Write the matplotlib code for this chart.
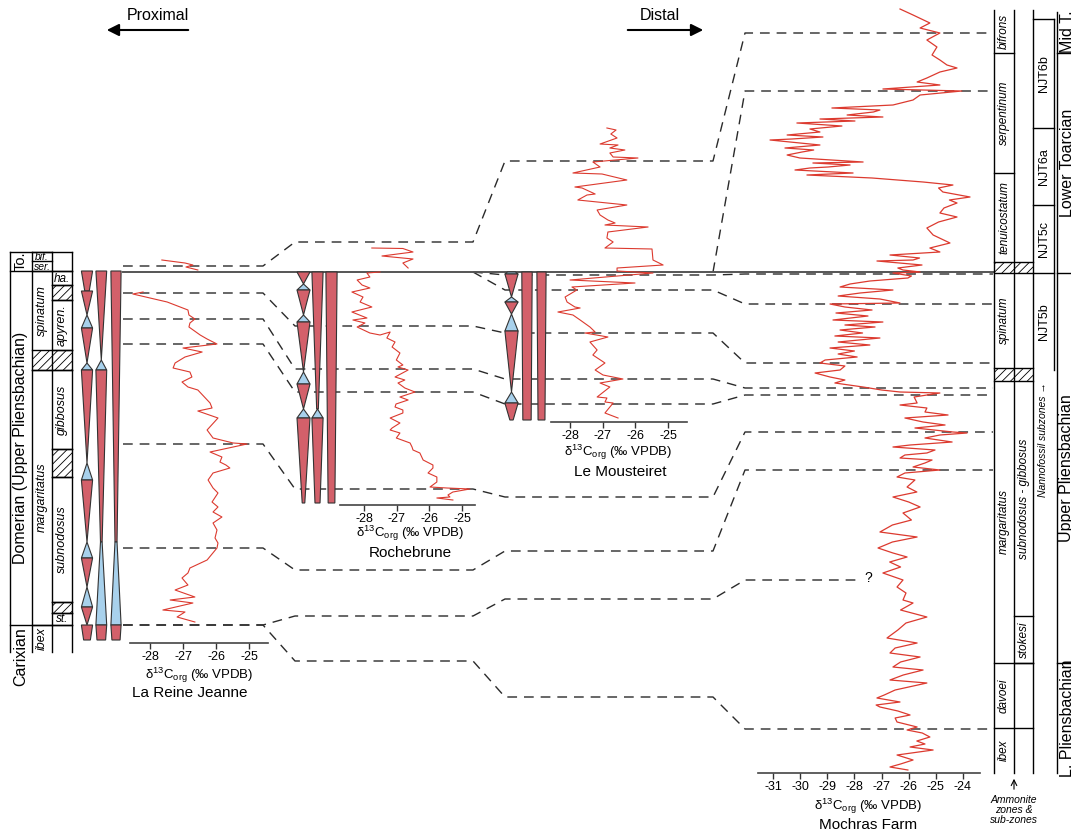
import matplotlib.pyplot as plt
from matplotlib.patches import Polygon, Rectangle

plt.rcParams['font.family'] = ['Liberation Sans', 'DejaVu Sans']
plt.rcParams['mathtext.fontset'] = 'custom'
plt.rcParams['mathtext.rm'] = 'Liberation Sans'
plt.rcParams['axes.unicode_minus'] = False
plt.rcParams['hatch.linewidth'] = 0.6

# ---------------- data ----------------
# d13C curves: (stratigraphic level, d13Corg permil). Level is the position in the panel (top = young)
lrj_toarc = [(260, -27.64), (263, -26.94), (265, -26.70), (267, -26.91), (270, -26.55)]
lrj_curve = [(292, -28.21), (294, -28.52), (302, -27.48), (310, -26.85), (315, -26.82), (319, -26.64),
             (323, -26.79), (327, -26.82), (335, -26.48), (339, -26.27), (344, -25.97), (348, -27.00),
             (352, -26.42), (357, -26.94), (363, -27.24), (368, -27.30), (372, -26.79), (377, -26.73),
             (382, -27.03), (387, -26.85), (390, -26.55), (403, -26.18), (408, -26.12), (411, -26.55),
             (418, -25.94), (430, -26.27), (438, -26.09), (443, -25.48), (444, -25.06), (452, -26.18),
             (457, -25.82), (462, -25.88), (465, -25.70), (468, -25.58), (473, -26.09), (480, -26.24),
             (488, -26.09), (493, -25.94), (502, -26.12), (507, -25.94), (512, -26.09), (517, -25.82),
             (523, -26.09), (530, -25.97), (538, -26.03), (543, -25.94), (548, -25.97), (560, -26.27),
             (568, -26.79), (573, -26.85), (578, -27.03), (585, -26.85), (590, -27.24), (597, -26.64),
             (600, -27.39), (603, -26.70), (610, -27.61), (612, -26.94), (617, -27.18), (622, -26.64)]

roche_toarc = [(248, -27.76), (248.5, -26.81), (252, -26.50), (256, -27.45), (259, -26.50),
               (263, -26.81), (268, -26.65)]
roche_curve = [(272, -27.51), (273, -27.91), (277, -27.82), (280, -28.21), (285, -28.06), (288, -27.82),
               (292, -28.37), (297, -28.03), (302, -28.12), (307, -27.76), (312, -28.37), (318, -27.91),
               (320, -28.34), (323, -27.97), (327, -28.21), (333, -27.82), (335, -27.51), (332, -27.20),
               (338, -27.30), (342, -27.05), (347, -27.14), (353, -26.90), (360, -27.01), (365, -26.81),
               (367, -26.96), (370, -26.65), (377, -27.05), (380, -26.75), (383, -26.96), (388, -26.75),
               (392, -26.44), (397, -26.90), (400, -26.65), (404, -27.02), (407, -27.05), (410, -26.81),
               (413, -26.81), (418, -27.20), (423, -26.90), (428, -27.14), (430, -27.20), (433, -26.90),
               (438, -27.01), (443, -26.59), (447, -26.53), (450, -26.50), (453, -26.29), (460, -26.19),
               (465, -25.89), (468, -25.89), (473, -26.04), (477, -25.77), (482, -25.77), (487, -25.98),
               (488, -25.46), (489, -24.76), (492, -25.28), (495, -25.43), (497, -25.37), (498, -25.77),
               (500, -25.28)]

mous_curve = [(128, -26.87), (130, -26.59), (134, -26.75), (138, -26.56), (144, -27.08), (145, -26.53),
              (148, -26.78), (150, -26.32), (153, -26.78), (157, -26.68), (158, -25.92), (162, -27.30),
              (167, -27.08), (173, -27.91), (174, -27.02), (180, -26.26), (187, -27.85), (188, -27.63),
              (194, -27.23), (195, -27.48), (200, -27.76), (205, -26.26), (210, -27.17), (215, -27.08),
              (220, -26.84), (223, -26.62), (225, -26.93), (227, -25.61), (232, -26.84), (238, -26.87),
              (242, -26.68), (248, -26.93), (249, -25.49), (260, -25.46), (265, -25.15), (268, -26.56),
              (271, -26.56), (273, -25.46), (280, -28.00), (283, -26.01), (287, -27.94), (290, -27.79),
              (297, -28.15), (302, -28.09), (307, -27.85), (308, -27.69), (312, -28.37), (315, -27.91),
              (320, -27.69), (327, -27.39), (332, -27.23), (333, -27.54), (337, -26.84), (342, -27.39),
              (350, -27.17), (355, -27.30), (363, -26.93), (370, -27.23), (375, -26.99), (379, -26.38),
              (383, -27.08), (387, -26.78), (397, -27.17), (398, -26.87), (402, -26.93), (403, -26.68),
              (413, -26.93), (418, -26.53)]

mochras_curve = [(9, -26.32), (15, -25.84), (23, -25.22), (28, -25.58), (33, -24.85), (40, -25.33),
                 (47, -24.96), (55, -25.14), (60, -24.85), (65, -24.59), (68, -24.22), (72, -24.85),
                 (78, -25.33), (82, -25.69), (85, -24.85), (89, -26.95), (91, -24.04), (95, -25.58),
                 (100, -25.84), (105, -26.58), (108, -28.83), (110, -27.06), (112, -27.30), (115, -28.27),
                 (117, -26.95), (119, -29.27), (121, -27.98), (123, -30.12), (126, -28.46), (129, -29.64),
                 (132, -29.27), (135, -30.48), (137, -29.16), (139, -30.30), (140, -31.11), (143, -30.01),
                 (145, -29.27), (148, -30.56), (150, -29.50), (152, -29.93), (155, -30.48), (158, -30.01),
                 (162, -27.68), (163, -29.53), (165, -28.16), (167, -28.97), (168, -29.64), (170, -30.19),
                 (173, -28.05), (175, -29.75), (178, -27.35), (182, -25.47), (185, -24.37), (188, -24.90),
                 (192, -24.74), (197, -23.74), (200, -24.50), (203, -24.22), (208, -24.70), (213, -24.85),
                 (217, -24.22), (222, -24.90), (228, -25.33), (235, -25.10), (243, -24.48), (248, -25.22),
                 (252, -24.85), (255, -26.69), (258, -25.60), (260, -25.84), (261, -27.17), (265, -25.51),
                 (268, -26.40), (270, -26.21), (272, -25.58), (273, -26.58), (276, -25.90), (278, -26.03),
                 (281, -27.43), (284, -28.16), (287, -28.53), (290, -26.58), (293, -27.79), (296, -28.60),
                 (299, -27.06), (303, -26.32), (304, -28.90), (307, -28.35), (310, -27.35), (313, -28.68),
                 (316, -27.50), (320, -28.79), (322, -26.95), (325, -28.35), (327, -27.24), (330, -28.53),
                 (333, -27.70), (336, -28.72), (338, -27.06), (342, -28.60), (345, -27.43), (348, -28.90),
                 (351, -28.00), (354, -28.60), (357, -27.90), (360, -29.08), (363, -29.27), (366, -28.35),
                 (370, -28.53), (373, -29.45), (377, -28.90), (380, -28.35), (383, -28.72), (387, -27.68),
                 (390, -27.00), (392, -26.32), (393, -24.85), (397, -25.80), (403, -25.69), (405, -26.32),
                 (408, -25.33), (412, -25.40), (415, -24.55), (418, -26.14), (422, -25.47), (425, -24.66),
                 (428, -25.77), (432, -24.37), (433, -23.85), (435, -24.85), (438, -25.40), (442, -24.40),
                 (445, -25.95), (447, -26.58), (450, -25.03), (453, -25.33), (455, -26.14), (458, -26.32),
                 (460, -25.14), (463, -25.40), (467, -25.84), (470, -24.85), (473, -26.14), (477, -26.43),
                 (480, -25.77), (487, -26.06), (492, -25.70), (497, -26.58), (502, -26.00), (507, -25.58),
                 (513, -26.21), (520, -25.90), (525, -26.60), (532, -27.06), (537, -25.69), (542, -26.60),
                 (548, -27.13), (553, -26.58), (557, -26.06), (562, -26.70), (567, -26.30), (573, -26.95),
                 (580, -26.21), (587, -26.43), (593, -26.10), (600, -26.21), (603, -25.84), (610, -26.30),
                 (617, -25.33), (623, -26.10), (630, -26.40), (638, -26.80), (643, -25.69), (648, -26.50),
                 (653, -26.69), (657, -25.58), (662, -26.30), (667, -26.58), (670, -25.47), (675, -26.20),
                 (680, -26.69), (683, -25.33), (690, -26.50), (695, -26.90), (698, -27.17), (702, -26.32),
                 (705, -27.20), (707, -27.06), (711, -26.40), (715, -25.95), (718, -26.50), (722, -26.43),
                 (727, -25.69), (730, -26.06), (733, -25.50), (737, -25.22), (741, -25.70), (744, -25.40),
                 (747, -25.95), (750, -25.10), (755, -26.43), (760, -25.84), (764, -26.30), (767, -26.69),
                 (770, -26.03)]

# sequence columns: (top, base, tract, width at top, width at base); r = red, b = blue
lrj_seq = [
    [(271, 291, 'r', 1, .4), (291, 315, 'r', 1, 0), (315, 328, 'b', 0, 1), (328, 363, 'r', 1, 0),
     (363, 370, 'b', 0, 1), (370, 463, 'r', 1, 0), (463, 480, 'b', 0, 1), (480, 542, 'r', 1, 0),
     (542, 558, 'b', 0, 1), (558, 587, 'r', 1, 0), (587, 607, 'b', 0, 1), (607, 625, 'r', 1, 0),
     (625, 640, 'r', 1, .6)],
    [(271, 360, 'r', 1, 0), (360, 370, 'b', 0, 1), (370, 542, 'r', 1, .15), (542, 625, 'b', .15, 1),
     (625, 640, 'r', 1, .8)],
    [(271, 542, 'r', 1, .2), (542, 625, 'b', .2, 1), (625, 640, 'r', 1, .8)],
]
roche_seq = [
    [(272, 284, 'r', 1, 0), (284, 290, 'b', 0, 1), (290, 315, 'r', 1, 0), (315, 322, 'b', 0, 1),
     (322, 372, 'r', 1, 0), (372, 384, 'b', 0, 1), (384, 409, 'r', 1, 0), (409, 418, 'b', 0, 1),
     (418, 503, 'r', 1, .2)],
    [(272, 409, 'r', 1, .15), (409, 418, 'b', 0, 1), (418, 503, 'r', 1, .45)],
    [(272, 503, 'r', 1, .6)],
]
mous_seq = [
    [(272, 274, 'b', .6, 1), (274, 297, 'r', 1, 0), (297, 302, 'b', 0, 1), (302, 314, 'r', 1, 0),
     (314, 331, 'b', 0, 1), (331, 392, 'r', 1, 0), (392, 403, 'b', 0, 1), (403, 420, 'r', 1, .25)],
    [(272, 420, 'r', 1, .8)],
    [(272, 420, 'r', 1, .75)],
]

# correlated horizons (La Reine Jeanne, Rochebrune, Le Mousteiret, Mochras); 272 = Pl/To boundary
BOUNDARY = 272
correlations = [
    (266, 242, 161, 33),
    (None, None, 272, 91),
    (None, 272, 275, 274),
    (None, 272, 290, 304),
    (293, 326, 333, 363),
    (319, 369, 379, 388),
    (344, 392, 404, 395),
    (444, 489, 497, 432),
    (548, 570, 551, 470),
    (625, 616, 599, 580),
    (625, 661, 697, 729),
]
queried = [580]

# La Reine Jeanne biostratigraphy: (label, top, base); None = hatched gap
lrj_stages = [('To.', 252, 271), ('Domerian (Upper Pliensbachian)', 271, 625), ('Carixian', 625, 688)]
lrj_zones = [('bif.', 252, 261), ('ser.', 261, 271), ('spinatum', 271, 350), (None, 350, 370),
             ('margaritatus', 370, 625), ('ibex', 625, 652)]
lrj_subzones = [('ha.', 271, 285), (None, 285, 300), ('apyren.', 300, 350), ('gibbosus', 370, 449),
                (None, 449, 477), ('subnodosus', 477, 602), (None, 602, 613), ('st.', 613, 625)]

# Mochras biostratigraphy
moch_zones = [('bifrons', 10, 53), ('serpentinum', 53, 173), ('tenuicostatum', 173, 262), (None, 262, 273),
              ('spinatum', 273, 368), (None, 368, 381), ('margaritatus', 381, 663), ('davoei', 663, 728),
              ('ibex', 728, 773)]
moch_subzones = [('subnodosus - gibbosus', 381, 616), ('stokesi', 616, 663)]
moch_nanno = [('NJT6b', 19, 128), ('NJT6a', 128, 205), ('NJT5c', 205, 273), ('NJT5b', 273, 370)]
moch_stages = [('Mid T.', 10, 53), ('Lower Toarcian', 53, 273), ('Upper Pliensbachian', 273, 663),
               ('L. Pliensbachian', 663, 773)]

# ---------------- figure ----------------
W, H = 1071, 831
RED = '#dc3a2f'
FILL = {'r': '#d3606a', 'b': '#a8d1ec'}
DASH = dict(color='#2a2a2a', lw=1.0, linestyle=(0, (7, 5)), zorder=1)

fig = plt.figure(figsize=(W / 100, H / 100), dpi=100)
ax = fig.add_axes([0, 0, 1, 1])
ax.set_xlim(0, W)
ax.set_ylim(H, 0)
ax.axis('off')


def hline(y, x0, x1, **kw):
    ax.plot([x0, x1], [y, y], color='k', lw=1, zorder=2, **kw)


def vline(x, y0, y1, **kw):
    ax.plot([x, x], [y0, y1], color='k', lw=1, zorder=2, **kw)


def hatch(x0, x1, y0, y1):
    ax.add_patch(Rectangle((x0, y0), x1 - x0, y1 - y0, fill=False, hatch='////', ec='k', lw=0, zorder=2))


def rtext(x, y, s, size=9, style='normal', rot=90):
    ax.text(x, y, s, rotation=rot, rotation_mode='anchor', ha='center', va='center',
            fontsize=size, style=style, zorder=4)


# top arrows
ax.text(158, 16, 'Proximal', fontsize=11.5, ha='center', va='center')
ax.annotate('', xy=(104, 30), xytext=(191, 30),
            arrowprops=dict(arrowstyle='-|>', lw=1.5, color='k', mutation_scale=18))
ax.text(660, 16, 'Distal', fontsize=11.5, ha='center', va='center')
ax.annotate('', xy=(706, 30), xytext=(625, 30),
            arrowprops=dict(arrowstyle='-|>', lw=1.5, color='k', mutation_scale=18))

# La Reine Jeanne chronostratigraphic column
for x in (10, 32, 52, 72):
    vline(x, 252, 652)
for s, top, base in lrj_stages:
    hline(top, 10, 72)
    y = base if s == 'Carixian' else None
    rtext(21, (top + base) / 2, s, size=11.5 if len(s) > 3 else 10.5)
for s, top, base in lrj_zones:
    if s is None:
        hatch(32, 72, top, base)
        hline(top, 32, 72)
        hline(base, 32, 72)
    else:
        hline(top, 32, 52)
        if base - top > 16:
            rtext(42, (top + base) / 2, s, size=9, style='italic')
        else:
            rtext(42, (top + base) / 2 + 0.5, s, size=7.5, style='italic', rot=0)
for s, top, base in lrj_subzones:
    hline(top, 52, 72)
    hline(base, 52, 72)
    if s is None:
        hatch(52, 72, top, base)
    elif base - top > 16:
        rtext(62, (top + base) / 2, s, size=9, style='italic')
    else:
        rtext(62, (top + base) / 2 + 0.5, s, size=8.5, style='italic', rot=0)

# Pliensbachian / Toarcian boundary
ax.plot([123, 994], [BOUNDARY, BOUNDARY], color='#555555', lw=1.4, zorder=2)

# correlation lines
spans = [(123, 263), (295, 473), (505, 713), (745, 993)]
for chain in correlations:
    pts = []
    for i, lev in enumerate(chain):
        if lev is None:
            continue
        x0, x1 = spans[i]
        if lev == BOUNDARY:
            pts.append((x1, lev))
            continue
        if i == 3 and lev in queried:
            x1 = 860
            ax.text(868, lev - 2, '?', fontsize=10, ha='center', va='center')
        pts += [(x0, lev), (x1, lev)]
    xs, ys = zip(*pts)
    ax.plot(xs, ys, **DASH)


# sequence columns
def seq_columns(cols, centres, halfw):
    for segs, cx, hw in zip(cols, centres, halfw):
        for top, base, c, wt, wb in segs:
            poly = [(cx - hw * wt, top), (cx + hw * wt, top), (cx + hw * wb, base), (cx - hw * wb, base)]
            ax.add_patch(Polygon(poly, closed=True, fc=FILL[c], ec='#333333', lw=0.8, zorder=3))


seq_columns(lrj_seq, [87, 101.3, 116], [5.6, 5.4, 5.1])
seq_columns(roche_seq, [303.5, 317.5, 331.5], [6.5, 5.6, 5.6])
seq_columns(mous_seq, [511.5, 527, 541.5], [6.6, 5.2, 4.6])


# d13C panels
def curve_panel(box, ref_val, ref_px, px_per_unit, ticks, segments, lw=0.8):
    x0, y0, x1, y1 = box
    a = fig.add_axes([x0 / W, 1 - y1 / H, (x1 - x0) / W, (y1 - y0) / H])
    a.set_xlim(ref_val + (x0 - ref_px) / px_per_unit, ref_val + (x1 - ref_px) / px_per_unit)
    a.set_ylim(y1, y0)
    a.patch.set_visible(False)
    for sp in ('top', 'left', 'right'):
        a.spines[sp].set_visible(False)
    a.spines['bottom'].set_color('#444444')
    a.spines['bottom'].set_linewidth(1.2)
    a.set_xticks(ticks)
    a.set_xticklabels([str(t) for t in ticks])
    a.set_yticks([])
    a.tick_params(axis='x', length=4, width=1, pad=1.5, labelsize=9, color='#333333')
    for seg in segments:
        lev, d = zip(*seg)
        a.plot(d, lev, color=RED, lw=lw, clip_on=False)
    return a


LABEL = r'δ$^{13}$C$_{\mathregular{org}}$ (‰ VPDB)'
curve_panel((130, 250, 268, 643), -28, 150, 33.0, [-28, -27, -26, -25], [lrj_toarc, lrj_curve])
ax.text(199, 675, LABEL, fontsize=9.5, ha='center', va='center')
ax.text(190, 693, 'La Reine Jeanne', fontsize=11, ha='center', va='center')

curve_panel((340, 240, 475, 505), -28, 364, 32.67, [-28, -27, -26, -25], [roche_toarc, roche_curve])
ax.text(410, 533, LABEL, fontsize=9.5, ha='center', va='center')
ax.text(410, 553, 'Rochebrune', fontsize=11, ha='center', va='center')

curve_panel((551, 120, 687, 422), -28, 570, 32.67, [-28, -27, -26, -25], [mous_curve])
ax.text(618, 452, LABEL, fontsize=9.5, ha='center', va='center')
ax.text(620, 472, 'Le Mousteiret', fontsize=11, ha='center', va='center')

curve_panel((758, 0, 980, 773), -31, 773, 27.14, list(range(-31, -23)), [mochras_curve], lw=0.9)
ax.text(868, 806, LABEL, fontsize=9.5, ha='center', va='center')
ax.text(868, 825, 'Mochras Farm', fontsize=11, ha='center', va='center')

# Mochras columns
for x in (994, 1014, 1033):
    vline(x, 10, 773)
vline(1054, 19, 370)
vline(1057, 12, 773)
for s, top, base in moch_zones:
    x1 = 1014 if base < 262 else 1033
    if base < 773:
        hline(base, 994, x1)
    if s is None:
        hatch(994, 1033, top, base)
    else:
        rtext(1004, (top + base) / 2, s, size=8.5, style='italic')
for s, top, base in moch_subzones:
    hline(base, 1014, 1033)
    rtext(1023.5, (top + base) / 2, s, size=8.5, style='italic')
for s, top, base in moch_nanno:
    if top == 19:
        hline(top, 1033, 1054)
    if base < 370:
        hline(base, 1033, 1054)
    rtext(1043.5, (top + base) / 2, s, size=9)
rtext(1043.5, 440, 'Nannofossil subzones →', size=7.5, style='italic')
for s, top, base in moch_stages:
    if base < 773:
        hline(base, 1057, 1071)
    rtext(1067, (top + base) / 2, s, size=11.5)
ax.annotate('', xy=(1014, 776), xytext=(1014, 792),
            arrowprops=dict(arrowstyle='->', lw=0.8, color='k'))
ax.text(1014, 810, 'Ammonite\nzones &\nsub-zones', fontsize=7.5, style='italic',
        ha='center', va='center', linespacing=0.95)

plt.savefig('out.png', dpi=100)
